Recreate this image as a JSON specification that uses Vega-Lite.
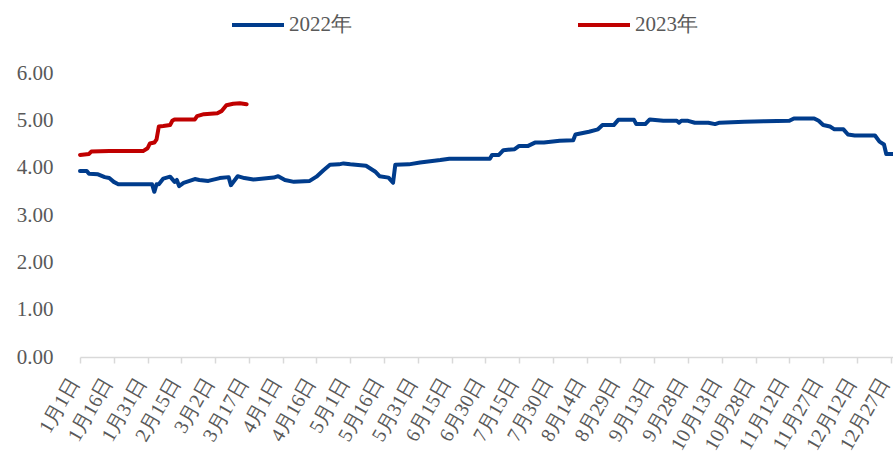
{
  "$schema": "https://vega.github.io/schema/vega-lite/v6.json",
  "width": 813,
  "height": 284,
  "autosize": {"type": "none"},
  "padding": {"left": 80, "top": 73, "right": 0, "bottom": 109},
  "background": "white",
  "config": {"view": {"stroke": null}, "font": "Liberation Serif"},
  "datasets": {
    "s2022": [
      {"date": "2022-01-01", "value": 3.93}, {"date": "2022-01-04", "value": 3.93}, {"date": "2022-01-05", "value": 3.87}, {"date": "2022-01-09", "value": 3.86},
      {"date": "2022-01-12", "value": 3.80}, {"date": "2022-01-14", "value": 3.78}, {"date": "2022-01-16", "value": 3.70}, {"date": "2022-01-18", "value": 3.65},
      {"date": "2022-02-02", "value": 3.65}, {"date": "2022-02-03", "value": 3.49}, {"date": "2022-02-04", "value": 3.65}, {"date": "2022-02-05", "value": 3.65},
      {"date": "2022-02-07", "value": 3.77}, {"date": "2022-02-10", "value": 3.81}, {"date": "2022-02-12", "value": 3.70}, {"date": "2022-02-13", "value": 3.74},
      {"date": "2022-02-14", "value": 3.61}, {"date": "2022-02-16", "value": 3.68}, {"date": "2022-02-21", "value": 3.76}, {"date": "2022-02-23", "value": 3.74},
      {"date": "2022-02-27", "value": 3.72}, {"date": "2022-03-04", "value": 3.78}, {"date": "2022-03-08", "value": 3.80}, {"date": "2022-03-09", "value": 3.63},
      {"date": "2022-03-12", "value": 3.82}, {"date": "2022-03-15", "value": 3.78}, {"date": "2022-03-19", "value": 3.75}, {"date": "2022-03-28", "value": 3.79},
      {"date": "2022-03-30", "value": 3.82}, {"date": "2022-04-02", "value": 3.74}, {"date": "2022-04-06", "value": 3.70}, {"date": "2022-04-13", "value": 3.72},
      {"date": "2022-04-16", "value": 3.81}, {"date": "2022-04-19", "value": 3.94}, {"date": "2022-04-22", "value": 4.06}, {"date": "2022-04-26", "value": 4.07},
      {"date": "2022-04-28", "value": 4.09}, {"date": "2022-05-01", "value": 4.07}, {"date": "2022-05-08", "value": 4.04}, {"date": "2022-05-12", "value": 3.92},
      {"date": "2022-05-14", "value": 3.82}, {"date": "2022-05-18", "value": 3.79}, {"date": "2022-05-20", "value": 3.68}, {"date": "2022-05-21", "value": 4.06},
      {"date": "2022-05-27", "value": 4.07}, {"date": "2022-06-01", "value": 4.11}, {"date": "2022-06-10", "value": 4.16}, {"date": "2022-06-14", "value": 4.19},
      {"date": "2022-07-02", "value": 4.19}, {"date": "2022-07-03", "value": 4.27}, {"date": "2022-07-06", "value": 4.27}, {"date": "2022-07-08", "value": 4.37},
      {"date": "2022-07-13", "value": 4.39}, {"date": "2022-07-15", "value": 4.46}, {"date": "2022-07-19", "value": 4.46}, {"date": "2022-07-22", "value": 4.53},
      {"date": "2022-07-26", "value": 4.53}, {"date": "2022-08-02", "value": 4.57}, {"date": "2022-08-08", "value": 4.58}, {"date": "2022-08-09", "value": 4.70},
      {"date": "2022-08-15", "value": 4.76}, {"date": "2022-08-19", "value": 4.81}, {"date": "2022-08-21", "value": 4.90}, {"date": "2022-08-26", "value": 4.90},
      {"date": "2022-08-28", "value": 5.01}, {"date": "2022-09-04", "value": 5.01}, {"date": "2022-09-05", "value": 4.92}, {"date": "2022-09-09", "value": 4.92},
      {"date": "2022-09-11", "value": 5.02}, {"date": "2022-09-17", "value": 4.99}, {"date": "2022-09-23", "value": 4.99}, {"date": "2022-09-24", "value": 4.95},
      {"date": "2022-09-25", "value": 4.99}, {"date": "2022-09-28", "value": 4.99}, {"date": "2022-10-01", "value": 4.95}, {"date": "2022-10-07", "value": 4.95},
      {"date": "2022-10-10", "value": 4.92}, {"date": "2022-10-12", "value": 4.95}, {"date": "2022-10-23", "value": 4.97}, {"date": "2022-11-01", "value": 4.98},
      {"date": "2022-11-12", "value": 4.99}, {"date": "2022-11-14", "value": 5.04}, {"date": "2022-11-23", "value": 5.04}, {"date": "2022-11-25", "value": 4.99},
      {"date": "2022-11-27", "value": 4.90}, {"date": "2022-11-30", "value": 4.87}, {"date": "2022-12-02", "value": 4.81}, {"date": "2022-12-06", "value": 4.81},
      {"date": "2022-12-08", "value": 4.70}, {"date": "2022-12-11", "value": 4.68}, {"date": "2022-12-20", "value": 4.68}, {"date": "2022-12-22", "value": 4.55},
      {"date": "2022-12-24", "value": 4.49}, {"date": "2022-12-25", "value": 4.29}, {"date": "2022-12-28", "value": 4.29}
    ],
    "s2023": [
      {"date": "2022-01-01", "value": 4.27}, {"date": "2022-01-05", "value": 4.29}, {"date": "2022-01-06", "value": 4.34}, {"date": "2022-01-14", "value": 4.35},
      {"date": "2022-01-29", "value": 4.35}, {"date": "2022-01-31", "value": 4.41}, {"date": "2022-02-01", "value": 4.51}, {"date": "2022-02-03", "value": 4.53},
      {"date": "2022-02-04", "value": 4.60}, {"date": "2022-02-05", "value": 4.87}, {"date": "2022-02-07", "value": 4.88}, {"date": "2022-02-10", "value": 4.90},
      {"date": "2022-02-11", "value": 4.99}, {"date": "2022-02-12", "value": 5.02}, {"date": "2022-02-21", "value": 5.02}, {"date": "2022-02-22", "value": 5.09},
      {"date": "2022-02-25", "value": 5.13}, {"date": "2022-03-03", "value": 5.15}, {"date": "2022-03-05", "value": 5.20}, {"date": "2022-03-07", "value": 5.32},
      {"date": "2022-03-10", "value": 5.35}, {"date": "2022-03-13", "value": 5.36}, {"date": "2022-03-16", "value": 5.34}
    ]
  },
  "data": {"name": "s2022"},
  "transform": [{"calculate": "'2022年'", "as": "series"}],
  "layer": [
    {
      "mark": {"type": "line", "strokeWidth": 4, "strokeJoin": "round", "strokeCap": "round", "clip": false},
      "encoding": {
        "x": {"field": "date", "type": "temporal"},
        "y": {"field": "value", "type": "quantitative"},
        "color": {"field": "series", "type": "nominal"}
      }
    },
    {
      "data": {"name": "s2023"},
      "transform": [{"calculate": "'2023年'", "as": "series"}],
      "mark": {"type": "line", "strokeWidth": 4, "strokeJoin": "round", "strokeCap": "round"},
      "encoding": {
        "x": {"field": "date", "type": "temporal"},
        "y": {"field": "value", "type": "quantitative"},
        "color": {"field": "series", "type": "nominal"}
      }
    }
  ],
  "resolve": {"scale": {"x": "shared", "y": "shared", "color": "shared"}},
  "encoding": {
    "x": {
      "field": "date", "type": "temporal",
      "scale": {"type": "utc", "domain": [{"year": 2022, "month": 1, "date": 1, "utc": true}, {"year": 2022, "month": 12, "date": 28, "utc": true}], "nice": false},
      "axis": {
        "title": null,
        "values": [
          {"year": 2022, "month": 1, "date": 1, "utc": true}, {"year": 2022, "month": 1, "date": 16, "utc": true}, {"year": 2022, "month": 1, "date": 31, "utc": true},
          {"year": 2022, "month": 2, "date": 15, "utc": true}, {"year": 2022, "month": 3, "date": 2, "utc": true}, {"year": 2022, "month": 3, "date": 17, "utc": true},
          {"year": 2022, "month": 4, "date": 1, "utc": true}, {"year": 2022, "month": 4, "date": 16, "utc": true}, {"year": 2022, "month": 5, "date": 1, "utc": true},
          {"year": 2022, "month": 5, "date": 16, "utc": true}, {"year": 2022, "month": 5, "date": 31, "utc": true}, {"year": 2022, "month": 6, "date": 15, "utc": true},
          {"year": 2022, "month": 6, "date": 30, "utc": true}, {"year": 2022, "month": 7, "date": 15, "utc": true}, {"year": 2022, "month": 7, "date": 30, "utc": true},
          {"year": 2022, "month": 8, "date": 14, "utc": true}, {"year": 2022, "month": 8, "date": 29, "utc": true}, {"year": 2022, "month": 9, "date": 13, "utc": true},
          {"year": 2022, "month": 9, "date": 28, "utc": true}, {"year": 2022, "month": 10, "date": 13, "utc": true}, {"year": 2022, "month": 10, "date": 28, "utc": true},
          {"year": 2022, "month": 11, "date": 12, "utc": true}, {"year": 2022, "month": 11, "date": 27, "utc": true}, {"year": 2022, "month": 12, "date": 12, "utc": true},
          {"year": 2022, "month": 12, "date": 27, "utc": true}
        ],
        "format": "%-m月%-d日",
        "labelAngle": -60,
        "labelAlign": "right",
        "labelBaseline": "middle",
        "labelFont": "Liberation Serif",
        "labelFontSize": 20,
        "labelColor": "#595959",
        "labelPadding": 16,
        "labelOffset": -6,
        "labelOverlap": false,
        "labelBound": false,
        "labelFlush": false,
        "domainColor": "#D9D9D9",
        "domainWidth": 1.5,
        "tickColor": "#D9D9D9",
        "tickWidth": 1.5,
        "tickSize": 6,
        "grid": false
      }
    },
    "y": {
      "field": "value", "type": "quantitative",
      "scale": {"domain": [0, 6], "nice": false},
      "axis": {
        "title": null,
        "values": [0, 1, 2, 3, 4, 5, 6],
        "format": ".2f",
        "domain": false,
        "ticks": false,
        "grid": false,
        "labelFont": "Liberation Serif",
        "labelFontSize": 21,
        "labelColor": "#595959",
        "labelPadding": 27
      }
    },
    "color": {
      "field": "series", "type": "nominal",
      "scale": {"domain": ["2022年", "2023年"], "range": ["#003C8C", "#C00000"]},
      "legend": {
        "title": null,
        "orient": "none",
        "legendX": 150,
        "legendY": -76,
        "direction": "horizontal",
        "symbolType": "stroke",
        "symbolSize": 2704,
        "symbolStrokeWidth": 4,
        "labelFont": "Liberation Serif",
        "labelFontSize": 21,
        "labelColor": "#595959",
        "labelOffset": 3,
        "columnPadding": 218
      }
    }
  }
}
